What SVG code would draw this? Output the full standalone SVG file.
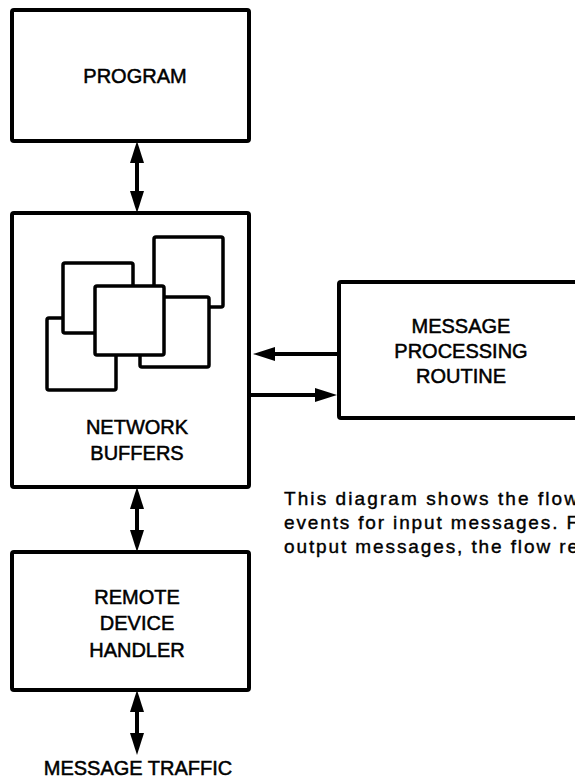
<svg xmlns="http://www.w3.org/2000/svg" width="575" height="779" viewBox="0 0 575 779">
<style>
.box{fill:#fff;stroke:#000;stroke-width:4;}
.buf{fill:#fff;stroke:#000;stroke-width:3.5;}
.lbl{font-family:"Liberation Sans",Arial,sans-serif;font-size:20px;fill:#000;stroke:#000;stroke-width:0.5;text-anchor:middle;}
.desc{font-family:"Liberation Sans",Arial,sans-serif;font-size:19px;fill:#000;stroke:#000;stroke-width:0.4;}
.conn{stroke:#000;stroke-width:4;fill:none;marker-start:url(#ah);marker-end:url(#ah);}
.one{stroke:#000;stroke-width:4;fill:none;marker-end:url(#ah);}
</style>
<defs>
<marker id="ah" markerUnits="userSpaceOnUse" viewBox="0 0 22 14" markerWidth="22" markerHeight="14" refX="2" refY="7" orient="auto-start-reverse">
<path d="M0,0 L22,7 L0,14 z" fill="#000"/>
</marker>
</defs>
<rect width="575" height="779" fill="#fff"/>
<g id="program">
<rect class="box" x="12" y="10" width="237" height="131" rx="2"/>
<text class="lbl" x="135" y="83">PROGRAM</text>
</g>
<g id="network-buffers">
<rect class="box" x="12" y="213" width="237" height="274" rx="2"/>
<rect class="buf" x="47" y="318" width="69" height="72" rx="2"/>
<rect class="buf" x="63" y="263" width="70" height="70" rx="2"/>
<rect class="buf" x="154" y="237" width="69" height="70" rx="2"/>
<rect class="buf" x="140" y="297" width="69" height="70" rx="2"/>
<rect class="buf" x="95" y="286" width="69" height="69" rx="2"/>
<text class="lbl" x="137" y="434">NETWORK</text>
<text class="lbl" x="137" y="460">BUFFERS</text>
</g>
<g id="message-processing-routine">
<rect class="box" x="339" y="282" width="260" height="136" rx="2"/>
<text class="lbl" x="461" y="333">MESSAGE</text>
<text class="lbl" x="461" y="358">PROCESSING</text>
<text class="lbl" x="461" y="383">ROUTINE</text>
</g>
<g id="remote-device-handler">
<rect class="box" x="12" y="552" width="237" height="138" rx="2"/>
<text class="lbl" x="137" y="604">REMOTE</text>
<text class="lbl" x="137" y="630">DEVICE</text>
<text class="lbl" x="137" y="657">HANDLER</text>
</g>
<g id="message-traffic">
<text class="lbl" x="138" y="775">MESSAGE TRAFFIC</text>
</g>
<g id="note">
<text class="desc" x="284" y="505" textLength="294" lengthAdjust="spacing">This diagram shows the flow</text>
<text class="desc" x="284" y="529" textLength="294" lengthAdjust="spacing">events for input messages. F</text>
<text class="desc" x="284" y="553" textLength="294" lengthAdjust="spacing">output messages, the flow re</text>
</g>
<g id="connectors">
<line class="conn" x1="137" y1="161" x2="137" y2="193"/>
<line class="conn" x1="137" y1="507" x2="137" y2="532"/>
<line class="conn" x1="137" y1="710" x2="137" y2="735"/>
<line class="one" x1="339" y1="354" x2="273" y2="354"/>
<line class="one" x1="249" y1="395" x2="317" y2="395"/>
</g>
</svg>
